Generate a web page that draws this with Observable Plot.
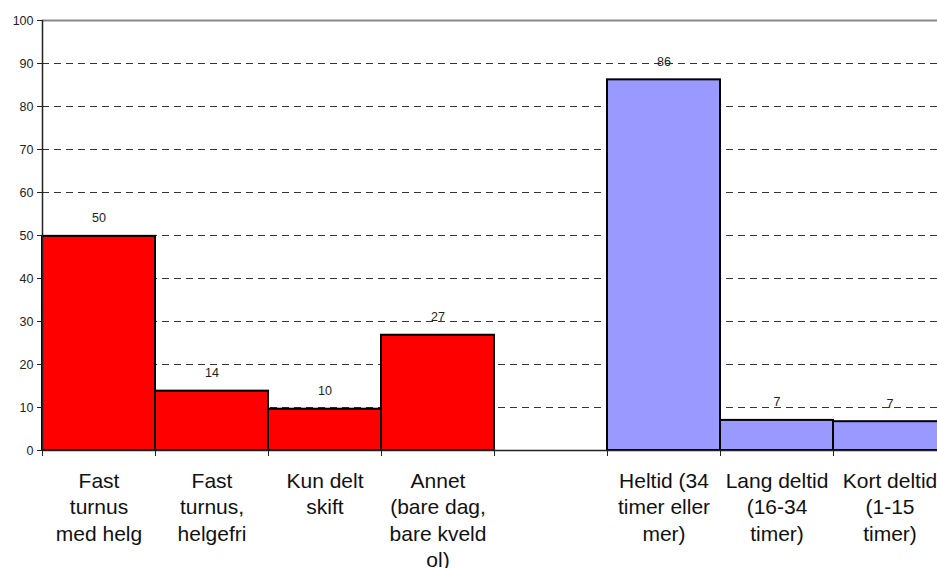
<!DOCTYPE html>
<html>
<head>
<meta charset="utf-8">
<script src="https://cdn.jsdelivr.net/npm/d3@7"></script>
<script src="https://cdn.jsdelivr.net/npm/@observablehq/plot@0.6"></script>
<style>
  html, body { margin: 0; padding: 0; background: #fff; overflow: hidden; }
  #wrap { width: 937px; height: 568px; overflow: hidden; }
</style>
</head>
<body>
<div id="wrap"></div>
<script>
const categories = [
  "Fast\nturnus\nmed helg",
  "Fast\nturnus,\nhelgefri",
  "Kun delt\nskift",
  "Annet\n(bare dag,\nbare kveld\nol)",
  "",
  "Heltid (34\ntimer eller\nmer)",
  "Lang deltid\n(16-34\ntimer)",
  "Kort deltid\n(1-15\ntimer)"
];
const values = [49.8, 13.8, 9.6, 26.8, null, 86.2, 7.0, 6.7];
const valueLabels = ["50", "14", "10", "27", "", "86", "7", "7"];
const groups = ["turnus", "turnus", "turnus", "turnus", "", "stilling", "stilling", "stilling"];
const groupColors = {turnus: "#FF0000", stilling: "#9999FF"};
const yTicks = [0, 10, 20, 30, 40, 50, 60, 70, 80, 90, 100];

const rows = categories.map((c, i) => ({i, cat: c, value: values[i], label: valueLabels[i], group: groups[i]}));
const bars = rows.filter(d => d.value != null);
const bounds = d3.range(categories.length + 1);

const font = "'Liberation Sans', Arial, sans-serif";

const chart = Plot.plot({
  width: 946,
  height: 568,
  marginLeft: 42,
  marginRight: 0,
  marginTop: 20,
  marginBottom: 118,
  style: {fontFamily: font, background: "#fff", color: "#000", maxWidth: "none"},
  x: {domain: [0, categories.length], axis: null},
  y: {domain: [0, 100], axis: null},
  marks: [
    Plot.ruleY(yTicks.filter(t => t > 0 && t < 100), {stroke: "#333", strokeWidth: 1, strokeDasharray: "7,5"}),
    Plot.ruleY([100], {stroke: "#888", strokeWidth: 2}),
    Plot.rectY(bars, {
      x1: d => d.i, x2: d => d.i + 1, y1: 0, y2: "value",
      fill: d => groupColors[d.group], stroke: "#000", strokeWidth: 2
    }),
    Plot.text(bars, {
      x: d => d.i + 0.5, y: "value", text: "label",
      dy: -18, fontSize: 12.5, fill: "#222"
    }),
    Plot.ruleY([0], {stroke: "#222", strokeWidth: 1.5}),
    Plot.axisY({ticks: yTicks, tickSize: 5, tickPadding: 4, fontSize: 12.5, stroke: "#222", fill: "#222", label: null, tickFormat: d => String(d)}),
    Plot.ruleX([0], {stroke: "#222", strokeWidth: 1.5}),
    Plot.axisX({ticks: bounds, tickSize: 6, tickFormat: () => "", label: null, stroke: "#222"}),
    Plot.text(rows, {
      x: d => d.i + 0.5, y: 0, text: "cat",
      lineAnchor: "top", dy: 18.5, fontSize: 21, lineHeight: 1.26, fill: "#111"
    })
  ]
});
document.getElementById("wrap").appendChild(chart);
</script>
</body>
</html>
